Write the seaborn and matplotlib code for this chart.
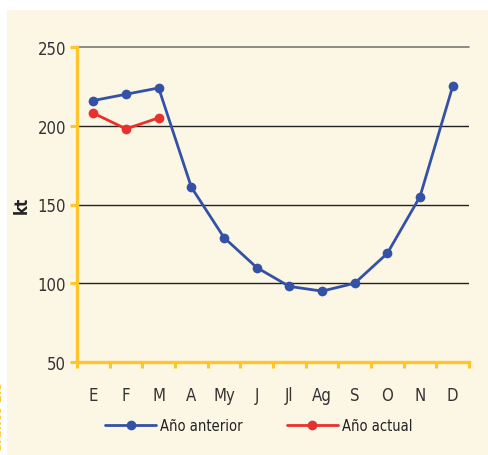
import pandas as pd
import seaborn as sns
import matplotlib.pyplot as plt
from matplotlib.patches import Rectangle
from matplotlib.ticker import FixedLocator

# Datos
meses = ["E", "F", "M", "A", "My", "J", "Jl", "Ag", "S", "O", "N", "D"]
anio_anterior = [216, 220, 224, 161, 129, 110, 98, 95, 100, 119, 155, 225]
anio_actual = [208, 198, 205]

azul = "#3452A5"
rojo = "#E8302F"
amarillo = "#FFC62B"
crema = "#FCF6E5"

df_ant = pd.DataFrame({"mes": meses, "kt": anio_anterior})
df_act = pd.DataFrame({"mes": meses[:len(anio_actual)], "kt": anio_actual})

sns.set_style("white")
plt.rcParams["font.family"] = ["DejaVu Sans"]
plt.rcParams["font.stretch"] = "condensed"

fig = plt.figure(figsize=(4.89, 4.56), dpi=100)
fig.patches.append(Rectangle((7 / 489, 0), 1, 1 - 11 / 456, transform=fig.transFigure,
                             facecolor=crema, edgecolor="none", zorder=-10))
ax = fig.add_axes([77 / 489, 1 - 363 / 456, (469 - 77) / 489, (363 - 48) / 456])
ax.patch.set_alpha(0)

sns.lineplot(data=df_ant, x="mes", y="kt", color=azul, marker="o", markersize=7,
             markeredgewidth=0, linewidth=2, label="Año anterior", ax=ax, sort=False)
sns.lineplot(data=df_act, x="mes", y="kt", color=rojo, marker="o", markersize=7,
             markeredgewidth=0, linewidth=2, label="Año actual", ax=ax, sort=False)

ax.set_xlim(-0.5, 11.5)
ax.set_ylim(50, 250)
ax.set_yticks([50, 100, 150, 200, 250])
for y in [100, 150, 200]:
    ax.axhline(y, color="#222222", linewidth=1, zorder=1)
ax.axhline(250, color="#777777", linewidth=1.2, zorder=1, clip_on=False)

for s in ["top", "right"]:
    ax.spines[s].set_visible(False)
for s in ["left", "bottom"]:
    ax.spines[s].set_color(amarillo)
    ax.spines[s].set_linewidth(2.4)

ax.xaxis.set_minor_locator(FixedLocator([i - 0.5 for i in range(13)]))
ax.tick_params(axis="x", which="major", length=0, pad=17, labelsize=12, labelcolor="#333333")
ax.tick_params(axis="x", which="minor", length=4, width=2.2, color=amarillo, direction="out", bottom=True)
ax.tick_params(axis="y", which="major", length=5, width=2.2, color=amarillo, left=True,
               pad=3, labelsize=12, labelcolor="#333333")

ax.set_xlabel("")
ax.set_ylabel("kt", fontsize=12, fontweight="bold", color="#222222")
ax.yaxis.set_label_coords((31 - 77) / 392, 0.5)

ax.legend(loc="center left", bbox_to_anchor=(105 / 489, 1 - 427 / 456),
          bbox_transform=fig.transFigure, borderaxespad=0, borderpad=0, ncol=2,
          frameon=False, fontsize=10.5, handlelength=3.5, columnspacing=3.0,
          handletextpad=0.3, labelcolor="#222222")

fig.text(-0.016, 0.085, "Gráfico 2.8", rotation=90, color=amarillo, fontsize=9,
         fontweight="bold", ha="left", va="center")

fig.savefig("out.png", dpi=100)
